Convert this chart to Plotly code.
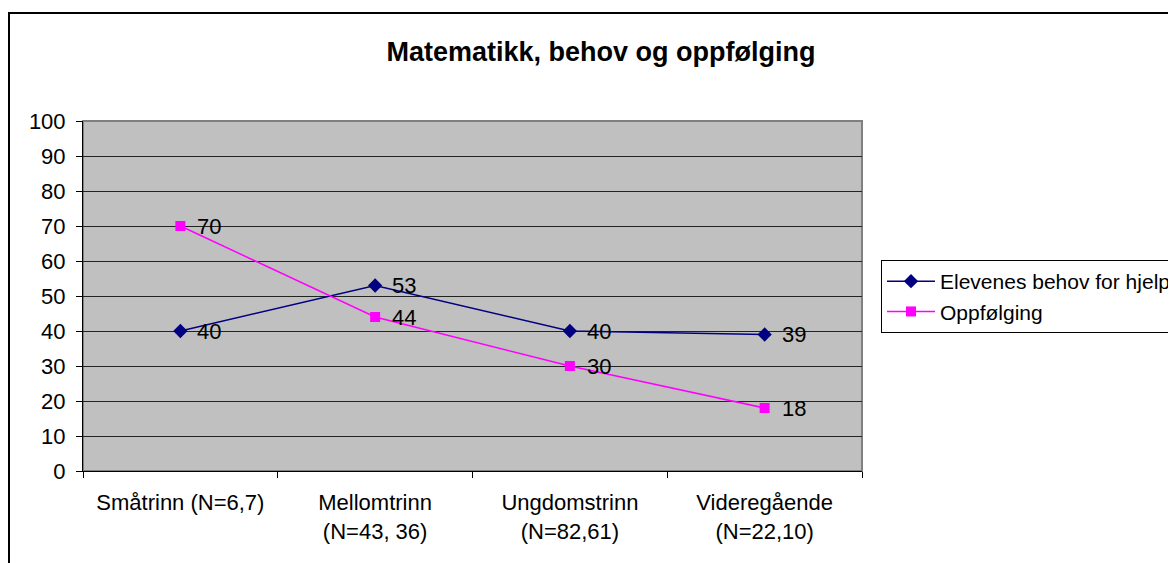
import plotly.graph_objects as go

categories = ["Småtrinn (N=6,7)", "Mellomtrinn<br>(N=43, 36)", "Ungdomstrinn<br>(N=82,61)", "Videregående<br>(N=22,10)"]
behov = [40, 53, 40, 39]
oppfolging = [70, 44, 30, 18]
series_names = ["Elevenes behov for hjelp", "Oppfølging"]

FONT = "Liberation Sans, Arial, sans-serif"
OFF = 8  # page body margin
W, H = 1168, 555
L, R, T, B = 83 - OFF, 862 - OFF, 121 - OFF, 471 - OFF
pw, ph = R - L, B - T

fig = go.Figure()
fig.add_trace(go.Scatter(
    x=categories, y=behov, name=series_names[0], mode="lines+markers",
    line=dict(color="#000080", width=1.5),
    marker=dict(symbol="diamond", size=11, color="#000080"),
    cliponaxis=False,
))
fig.add_trace(go.Scatter(
    x=categories, y=oppfolging, name=series_names[1], mode="lines+markers",
    line=dict(color="#FF00FF", width=1.5),
    marker=dict(symbol="square", size=10, color="#FF00FF"),
    cliponaxis=False,
))

annotations = []
for series in (behov, oppfolging):
    for c, v in zip(categories, series):
        annotations.append(dict(x=c, y=v, xref="x", yref="y", text=str(v), showarrow=False,
                                xanchor="left", yanchor="middle", xshift=15,
                                font=dict(size=22, family=FONT, color="black")))

fig.update_layout(
    width=W, height=H,
    margin=dict(l=L, r=W - R, t=T, b=H - B, pad=0, autoexpand=False),
    paper_bgcolor="white",
    plot_bgcolor="#C0C0C0",
    font=dict(family=FONT, size=22, color="black"),
    title=dict(text="<b>Matematikk, behov og oppfølging</b>", font=dict(size=27, family=FONT, color="black"),
               x=(601 - OFF) / W, xref="container", xanchor="center",
               y=1 - (52 - OFF) / H, yref="container", yanchor="middle"),
    showlegend=True,
    legend=dict(x=(881 - OFF) / W, xref="container", y=1 - (260 - OFF) / H, yref="container",
                xanchor="left", yanchor="top",
                bordercolor="black", borderwidth=1, bgcolor="white",
                font=dict(size=21, family=FONT, color="black"),
                itemwidth=48),
    xaxis=dict(type="category", tickson="boundaries", ticks="outside", ticklen=6, tickcolor="black",
               showgrid=False, showline=True, linecolor="black", linewidth=1,
               tickfont=dict(size=22, family=FONT), range=[-0.5, 3.5], ticklabelstandoff=12),
    yaxis=dict(range=[0, 100], dtick=10, tick0=0, ticks="outside", ticklen=6, tickcolor="black",
               showgrid=True, gridcolor="#222222", gridwidth=1,
               showline=True, linecolor="black", linewidth=1, zeroline=False,
               tickfont=dict(size=22, family=FONT), ticklabelstandoff=6),
    annotations=annotations,
    shapes=[
        dict(type="rect", xref="paper", yref="paper", x0=0, x1=1, y0=0, y1=1,
             line=dict(color="#808080", width=2), fillcolor="rgba(0,0,0,0)", layer="below"),
        dict(type="rect", xref="paper", yref="paper", x0=(9 - 83) / pw, x1=1.6, y0=-1, y1=(471 - 13) / ph,
             line=dict(color="black", width=2), fillcolor="rgba(0,0,0,0)"),
    ],
)

fig.write_html("out.html")
